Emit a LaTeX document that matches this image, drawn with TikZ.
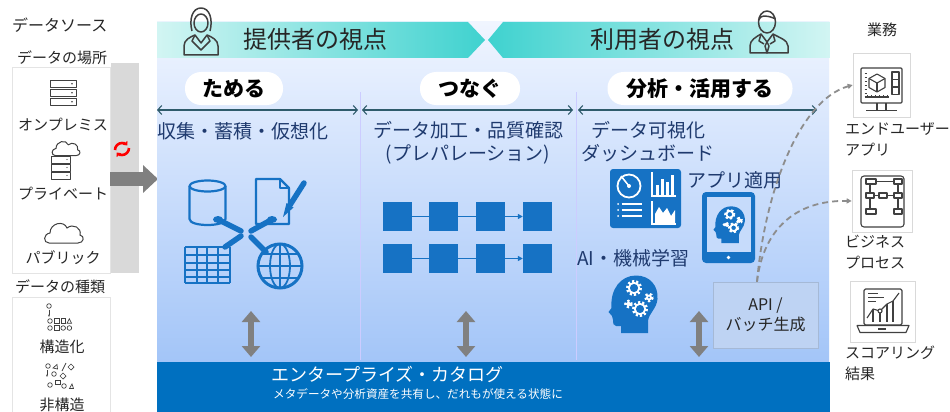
\documentclass[tikz,border=0pt]{standalone}
\usepackage{fontspec}
\setmainfont{Noto Sans CJK JP}
\usetikzlibrary{arrows.meta,calc}

\definecolor{iconblue}{HTML}{1672C4}
\definecolor{bandblue}{HTML}{0070C0}
\definecolor{navy}{HTML}{1F3A6E}
\definecolor{tealdark}{HTML}{3FD2CF}
\definecolor{teallight}{HTML}{D2F5F3}
\definecolor{panetop}{HTML}{F0F5FF}
\definecolor{panebot}{HTML}{A3C5F8}
\definecolor{arrowgray}{HTML}{808080}
\definecolor{linegray}{HTML}{404040}
\definecolor{boxgray}{HTML}{D9D9D9}
\definecolor{spanline}{HTML}{2E5B6B}
\definecolor{apifill}{HTML}{BED3F3}
\definecolor{apiborder}{HTML}{A5B9D6}
\definecolor{inkgray}{HTML}{262626}

% white gear: toothed ring plus inner ring
\newcommand\gearat[3]{%
  \draw[white,line width=2.6pt,dash pattern=on 2.1pt off 2.1pt] (#1,#2) circle ({#3-1.3});
  \draw[white,line width=1.8pt] (#1,#2) circle ({#3-2.8});}

\tikzset{
  gearhead/.pic={
    \fill[iconblue] (14,58) -- (14,51) -- (9,51) .. controls (6,51) and (6,48) .. (6,45)
      -- (5,41) -- (1.5,37) -- (4.5,33) .. controls (3,14) and (14,0.5) .. (29,0.5)
      .. controls (43,0.5) and (51.5,11) .. (50.5,24) .. controls (49.5,34) and (42,38) .. (41,46)
      -- (41,58) -- cycle;
    \gearat{27}{13}{8}
    \gearat{42}{22.5}{4.8}
    \gearat{33}{34}{8}
    \gearat{21.5}{29}{4.3}
  },
  cloudicon/.pic={
    \draw[linegray, line width=1pt, fill=white] (6,23) .. controls (0,23) and (0,14) .. (7,13)
      .. controls (7,3) and (21,0) .. (24,8) .. controls (30,3) and (39,8) .. (37,15)
      .. controls (42,16) and (41,23) .. (35,23) -- cycle;
  },
}

\begin{document}
\begin{tikzpicture}[x=1pt,y=-1pt,
  lbl/.style={inner sep=0, text=inkgray, font=\fontsize{15}{21}\selectfont},
  sublbl/.style={inner sep=0, text=navy, font=\fontsize{19}{23}\selectfont},
  hdr/.style={inner sep=0, text=inkgray, font=\fontsize{24}{24}\selectfont},
  pill/.style={fill=white, rounded corners=16pt, minimum height=33pt, inner sep=0,
    font=\bfseries\fontsize{21}{21}\selectfont},
  whitebox/.style={draw=boxgray!70, fill=white, line width=0.6pt},
  iconbox/.style={draw=boxgray, fill=white, line width=0.6pt, inner sep=0},
  sq/.style={fill=iconblue, minimum size=29pt, inner sep=0},
  fatarrow/.style={draw=arrowgray, line width=6pt,
    {Triangle[width=18pt,length=11pt]}-{Triangle[width=18pt,length=11pt]}},
  spanarrow/.style={spanline, line width=1.1pt,
    {Straight Barb[length=4pt,width=9pt]}-{Straight Barb[length=4pt,width=9pt]}},
  dashlink/.style={arrowgray!90, line width=1.8pt, dash pattern=on 6pt off 4pt,
    -{Triangle[length=5pt,width=5pt]}},
  iconline/.style={iconblue, line width=2.2pt, line join=round},
  thinline/.style={linegray, line width=1.1pt, line join=round},
  divider/.style={draw=blue!20!white, line width=0.6pt},
]
\fill[white] (0,0) rectangle (950,412);
\useasboundingbox (0,0) rectangle (950,412);

% ---------------- data sources column ----------------
\node[lbl, anchor=west, font=\fontsize{16}{16}\selectfont] (srctitle) at (12,25) {データソース};
\node[lbl] (loctitle) at (62,58) {データの場所};
\fill[whitebox] (12,67) rectangle (110,273);
\node[fill=boxgray, minimum width=28pt, minimum height=210pt, inner sep=0, anchor=north west] (srcbar) at (111,63) {};

% on-premises servers
\foreach \yy in {80,89,98} {
  \draw[thinline, line width=0.9pt] (50,\yy) rectangle (76,\yy+7.5);
  \fill[linegray] (72,\yy+3.75) circle (0.8);
}
\node[lbl] (onprem) at (63,125) {オンプレミス};

% private cloud
\pic[scale=0.72] at (51,139) {cloudicon};
\foreach \yy in {156,164,172} {
  \draw[thinline, line width=0.9pt, fill=white] (51,\yy) rectangle (70,\yy+7);
  \fill[linegray] (67,\yy+3.5) circle (0.7);
}
\node[lbl] (private) at (63,194) {プライベート};

% public cloud
\pic at (43,220) {cloudicon};
\node[lbl] (public) at (63,258) {パブリック};

\node[lbl] (kindtitle) at (60,287) {データの種類};
\fill[whitebox] (12,297) rectangle (110,420);

% structured data
\begin{scope}[linegray, line width=0.7pt]
  \draw (49,306) circle (2.3);
  \draw[-{Stealth[length=2.5pt]}] (49,309.5) -- (49,317);
  \draw (50,321) circle (2.3);
  \draw (54.5,318.7) rectangle (59,323.3);
  \draw (61,318.7) rectangle (65.5,323.3);
  \draw (67,323.3) -- (69.3,318.7) -- (71.6,323.3) -- cycle;
  \draw (50,328) circle (2.3);
  \draw (54.5,325.7) rectangle (59,330.3);
  \draw (63.2,328) circle (2.3);
  \draw (69.4,328) circle (2.3);
\end{scope}
\node[lbl] (struct) at (62,347) {構造化};

% unstructured data
\begin{scope}[linegray, line width=0.7pt]
  \draw (48,366) circle (2.3);
  \draw (53,368) -- (57,364.5) -- (57.5,369) -- cycle;
  \draw (62,371) -- (66,363);
  \draw (71,364) -- (74,367) -- (71,370) -- (68,367) -- cycle;
  \draw[-{Stealth[length=2.5pt]}] (47,370) -- (47,377);
  \draw (54,374) circle (2.3);
  \draw (60,376) -- (63,373) -- (66,376) -- (63,379) -- cycle;
  \draw (50,385) circle (2.3);
  \draw (55.5,380) rectangle (60,384.5);
  \draw (64,386) circle (2.3);
  \draw (69.5,388.5) -- (72,384) -- (73.5,388.5) -- cycle;
\end{scope}
\node[lbl] (unstruct) at (62,405) {非構造};

% sync symbol and feed arrow
\draw[red, line width=2.6pt, -{Triangle[length=3.5pt,width=6pt]}] (129,148) arc[start angle=0, end angle=140, radius=7];
\draw[red, line width=2.6pt, -{Triangle[length=3.5pt,width=6pt]}] (115,150) arc[start angle=180, end angle=320, radius=7];
\coordinate (feedstart) at (110,179);
\coordinate (feedend) at (158,179);
\draw[arrowgray, line width=14pt, -{Triangle[width=27pt,length=15pt]}] (feedstart) -- (feedend);

% ---------------- main panel ----------------
\shade[top color=panetop, bottom color=panebot] (157,22) rectangle (829,362);
\shade[left color=teallight, right color=tealdark] (157,22) -- (468,22) -- (485,40) -- (468,58) -- (157,58) -- cycle;
\shade[left color=tealdark, right color=teallight] (503,22) -- (830,22) -- (830,58) -- (503,58) -- (488,40) -- cycle;

\node[hdr, anchor=west] (provider) at (243,39) {提供者の視点};
\node[hdr, anchor=west] (consumer) at (590,39) {利用者の視点};

% provider person
\begin{scope}[linegray, line width=1.5pt, line join=round]
  \draw (192,31) .. controls (189,20) and (192,8) .. (201,8) .. controls (210,8) and (213,20) .. (210,31);
  \draw (201,23) ellipse [x radius=7, y radius=9];
  \draw (184,55) -- (184,46) .. controls (184,40) and (190,37) .. (195,35) -- (201,43) -- (207,35)
        .. controls (212,37) and (218,40) .. (218,46) -- (218,55) -- cycle;
  \draw (195,35) -- (192,41) -- (201,50) -- (210,41) -- (207,35);
\end{scope}
% consumer person
\begin{scope}[linegray, line width=1.5pt, line join=round]
  \draw (767,22) ellipse [x radius=8.5, y radius=11];
  \draw (758.5,20) .. controls (760,14) and (770,16) .. (775.5,19);
  \draw (750,53) -- (750,46) .. controls (750,40) and (756,37) .. (761,34) -- (767,42) -- (773,34)
        .. controls (778,37) and (788,40) .. (788,46) -- (788,53) -- cycle;
  \draw (767,42) -- (765,46) -- (767,53) -- (769,46) -- cycle;
  \draw (761,34) -- (759,41) -- (764,44);
  \draw (773,34) -- (775,41) -- (770,44);
\end{scope}

% stage labels
\node[pill, minimum width=98pt] (tameru) at (234,88.5) {ためる};
\node[pill, minimum width=100pt] (tsunagu) at (470,88.5) {つなぐ};
\node[pill, minimum width=185pt] (bunseki) at (700,88.5) {分析・活用する};

\draw[divider] (360,92) -- (360,360);
\draw[divider] (576,92) -- (576,360);

\coordinate (s1l) at (157,110); \coordinate (s1r) at (358,110);
\coordinate (s2l) at (362,110); \coordinate (s2r) at (573,110);
\coordinate (s3l) at (578,110); \coordinate (s3r) at (817,110);
\draw[spanarrow] (s1l) -- (s1r);
\draw[spanarrow] (s2l) -- (s2r);
\draw[spanarrow] (s3l) -- (s3r);

\node[sublbl, anchor=west] (collect) at (157,131) {収集・蓄積・仮想化};
\node[sublbl, align=center] (prep) at (468,143) {データ加工・品質確認\\(プレパレーション)};
\node[sublbl, align=center] (visual) at (648,142) {データ可視化\\ダッシュボード};
\node[sublbl, anchor=west] (appuse) at (687,180) {アプリ適用};
\node[sublbl, anchor=west] (aiml) at (577,258) {AI・機械学習};

% storage icons: database, document, table, globe
\draw[iconline] (207.5,186) ellipse [x radius=18, y radius=5.5];
\draw[iconline] (189.5,186) -- (189.5,219) .. controls (189.5,227) and (225.5,227) .. (225.5,219) -- (225.5,186);
\draw[iconline] (256,179) -- (280,179) -- (289,188) -- (289,224) -- (256,224) -- cycle;
\draw[iconline, line width=1.6pt] (280,179) -- (280,188) -- (289,188);
\draw[iconblue, line width=5.5pt, line cap=round] (304,183) -- (290,205);
\fill[iconblue] (286.5,203) -- (293.5,207.5) -- (283,217) -- cycle;
\begin{scope}[iconblue, line width=1.6pt]
  \foreach \yy in {247,255,263,270,277,283} \draw (185,\yy) -- (230,\yy);
  \foreach \xx in {185,197,207,218,230} \draw (\xx,247) -- (\xx,283);
\end{scope}
\draw[iconblue, line width=3pt] (280,266) circle (22);
\begin{scope}[iconblue, line width=1.8pt]
  \draw (280,266) ellipse [x radius=10, y radius=22];
  \draw (258,266) -- (302,266);
  \draw (280,244) -- (280,288);
  \draw (261.5,254) -- (298.5,254);
  \draw (261.5,278) -- (298.5,278);
\end{scope}
\begin{scope}[iconblue, line width=5.5pt, line cap=round]
  \draw (219,220) -- (241,231);
  \draw (271,220) -- (251,231);
  \draw (225,247) -- (241,236);
  \draw (266,252) -- (251,237);
\end{scope}
\fill[iconblue] (218,219.5) ellipse [x radius=5, y radius=3.5];
\fill[iconblue] (272,219.5) ellipse [x radius=5, y radius=3.5];

% preparation flow
\node[sq] (a1) at (397,216.5) {};
\node[sq] (a2) at (443.5,216.5) {};
\node[sq] (a3) at (490.5,216.5) {};
\node[sq] (a4) at (537.5,216.5) {};
\node[sq] (b1) at (397,258.5) {};
\node[sq] (b2) at (443.5,258.5) {};
\node[sq] (b3) at (490.5,258.5) {};
\node[sq] (b4) at (537.5,258.5) {};
\begin{scope}[iconblue, line width=1.3pt]
  \draw (a1) -- (a2); \draw (a2) -- (a3);
  \draw[-{Triangle[length=5pt,width=5pt]}] (a3) -- (a4);
  \draw (b1) -- (b2); \draw (b2) -- (b3);
  \draw[-{Triangle[length=5pt,width=5pt]}] (b3) -- (b4);
\end{scope}

% dashboard
\fill[iconblue, rounded corners=3pt] (610,169) rectangle (681,228);
\draw[white, line width=1.8pt] (629,186) circle (11.5);
\draw[white, line width=1.5pt] (629,186) -- (621,176);
\fill[white] (629,186) circle (2);
\foreach \yy in {204,210,216} {
  \fill[white] (618,\yy) circle (1);
  \draw[white, line width=1.3pt] (621.5,\yy) -- (642,\yy);
}
\draw[white, line width=1.3pt] (652,172) -- (652,196) -- (676,196);
\fill[white] (656,185) rectangle (659,195);
\fill[white] (661,179) rectangle (664,195);
\fill[white] (666,182) rectangle (669,195);
\fill[white] (671,175) rectangle (674,195);
\draw[white, line width=1.3pt] (652,201) -- (652,224) -- (676,224);
\fill[white] (655,223) -- (655,214) -- (659,207) -- (663,213) -- (667,208) -- (671,216) -- (675,210) -- (675,223) -- cycle;

% tablet running the model
\fill[iconblue, rounded corners=4pt] (702,192) rectangle (755,263);
\fill[panebot!55!panetop] (706.5,197) rectangle (750.5,252);
\fill[white] (728.5,257.5) circle (1.8);
\pic[scale=0.64] at (712.5,206) {gearhead};

% machine learning head
\pic at (607,275) {gearhead};

% API / batch box
\node[draw=apiborder, fill=apifill, minimum width=105pt, minimum height=66pt, inner sep=0,
      align=center, text=inkgray, font=\fontsize{16}{20}\selectfont] (api) at (765.5,315) {API /\\バッチ生成};

% catalog band
\node[fill=bandblue, minimum width=673pt, minimum height=50pt, inner sep=0, anchor=north west] (catalog) at (157,362) {};
\node[anchor=west, inner sep=0, text=white, font=\fontsize{18}{18}\selectfont] (cattitle) at (271,374) {エンタープライズ・カタログ};
\node[anchor=west, inner sep=0, text=white, font=\fontsize{11.6}{12}\selectfont] (catsub) at (273,394) {メタデータや分析資産を共有し、だれもが使える状態に};

% links between stages and the catalog
\coordinate (v1t) at (251,311); \coordinate (v1b) at (251,357);
\coordinate (v2t) at (466,311); \coordinate (v2b) at (466,357);
\coordinate (v3t) at (699,311); \coordinate (v3b) at (699,357);
\draw[fatarrow] (v1t) -- (v1b);
\draw[fatarrow] (v2t) -- (v2b);
\draw[fatarrow] (v3t) -- (v3b);

% ---------------- business column ----------------
\node[lbl] (biz) at (882,30) {業務};

\node[iconbox, minimum width=57pt, minimum height=64pt] (eu) at (881.5,85) {};
\begin{scope}[thinline]
  \draw[rounded corners=1pt] (861,68) rectangle (902,103);
  \draw (877,103) -- (877,110);
  \draw (886,103) -- (886,110);
  \draw (866,110.5) -- (897,110.5);
  \draw (864.5,97) -- (889,97);
  \foreach \xx in {867,871,875,879,883,887} \draw[line width=0.7pt] (\xx,97) -- (\xx,95);
  \foreach \yy in {73,77,81,85,89,93} \draw[line width=0.7pt] (864.5,\yy) -- (866.5,\yy);
  \draw (892,72) rectangle (899,79.5);
  \draw (892,79.5) rectangle (899,87);
  \draw (892,87) rectangle (899,94.5);
  \draw (877,74) -- (885,78.5) -- (885,87.5) -- (877,92) -- (869,87.5) -- (869,78.5) -- cycle;
  \draw (869,78.5) -- (877,83) -- (885,78.5);
  \draw (877,83) -- (877,92);
\end{scope}
\node[lbl, anchor=west, align=left] (eulbl) at (845,139.5) {エンドユーザー\\アプリ};

\node[iconbox, minimum width=60pt, minimum height=62pt] (bp) at (882,201) {};
\begin{scope}[thinline]
  \draw[rounded corners=3pt] (861,176) rectangle (904,227);
  \draw (866,179) rectangle (876,184);
  \draw (894,179) rectangle (902,184);
  \draw (866,193) rectangle (874,198);
  \draw (879,193) rectangle (887,198);
  \draw (894,193) rectangle (902,198);
  \draw (866,209) rectangle (876,214);
  \draw (894,209) rectangle (902,214);
  \draw (876,181.5) -- (894,181.5);
  \draw (870,184) -- (870,193);
  \draw (898,184) -- (898,193);
  \draw (874,195.5) -- (879,195.5);
  \draw (887,195.5) -- (894,195.5);
  \draw (870,198) -- (870,209);
  \draw (898,198) -- (898,209);
\end{scope}
\node[lbl, anchor=west, align=left] (bplbl) at (845,252.5) {ビジネス\\プロセス};

\node[iconbox, minimum width=65pt, minimum height=61pt] (sc) at (882.5,311.5) {};
\begin{scope}[thinline]
  \draw[rounded corners=1.5pt] (864,289) rectangle (902,325);
  \draw (857,325.5) -- (909,325.5) -- (906,332.5) -- (860,332.5) -- cycle;
  \draw (878,329) -- (886,329);
  \draw (868,293.5) -- (878,293.5);
  \draw (868,297.5) -- (884,297.5);
  \draw (868,301.5) -- (876,301.5);
  \draw (867,318) -- (873,309) -- (880,311) -- (887,304) -- (893,301) -- (899,293);
  \draw (873,309) -- (873,322);
  \draw (880,313) -- (880,322);
  \draw (887,304) -- (887,322);
  \draw (893,301) -- (893,322);
  \draw[fill=white] (880,311) circle (2);
\end{scope}
\node[lbl, anchor=west, align=left] (sclbl) at (845,363) {スコアリング\\結果};

% delivery links from the API box
\coordinate (apitop) at ([xshift=-8.5pt]api.north);
\draw[dashlink] (apitop) .. controls (765,190) and (800,100) .. (eu.west);
\draw[dashlink] (apitop) .. controls (763,230) and (795,200) .. (bp.west);
\end{tikzpicture}
\end{document}
